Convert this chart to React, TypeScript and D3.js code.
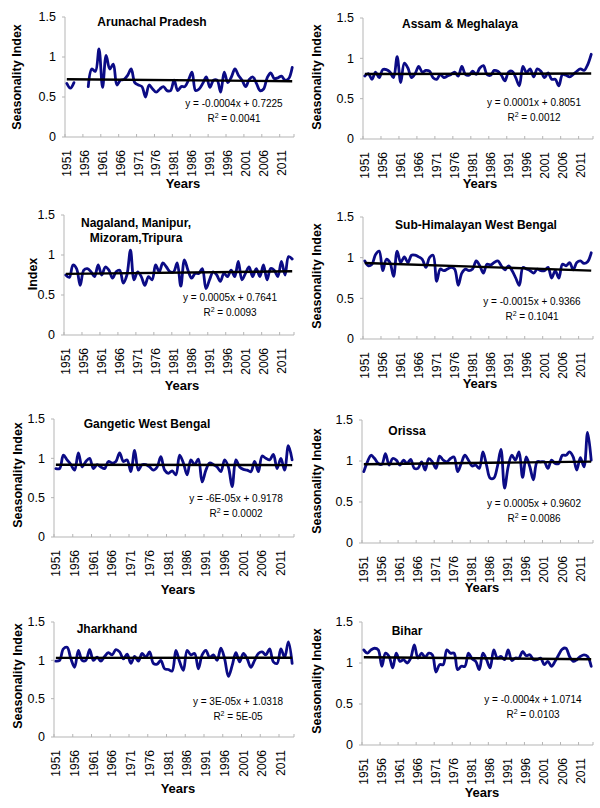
import React from "react";
import * as d3 from "d3";

const years: number[] = [
  1951, 1952, 1953, 1954, 1955, 1956, 1957, 1958, 1959, 1960, 1961, 1962, 1963, 1964, 1965, 1966,
  1967, 1968, 1969, 1970, 1971, 1972, 1973, 1974, 1975, 1976, 1977, 1978, 1979, 1980, 1981, 1982,
  1983, 1984, 1985, 1986, 1987, 1988, 1989, 1990, 1991, 1992, 1993, 1994, 1995, 1996, 1997, 1998,
  1999, 2000, 2001, 2002, 2003, 2004, 2005, 2006, 2007, 2008, 2009, 2010, 2011, 2012, 2013, 2014,
];
const xTickLabels: number[] = [1951, 1956, 1961, 1966, 1971, 1976, 1981, 1986, 1991, 1996, 2001, 2006, 2011];
const yTicks: number[] = [0, 0.5, 1, 1.5];

const arunachal: (number | null)[] = [
  0.67, 0.61, 0.68, null, null, null, 0.63, 0.85, 0.82, 1.1, 0.62, 1.02, 0.85, 0.91, 0.65, 0.71,
  0.72, 0.77, 0.85, 0.68, 0.65, 0.63, 0.5, 0.65, 0.6, 0.56, 0.6, 0.63, 0.58, 0.58, 0.71, 0.58,
  0.63, 0.63, 0.71, 0.81, 0.58, 0.6, 0.67, 0.75, 0.62, 0.71, 0.71, 0.56, 0.81, 0.68, 0.75, 0.85,
  0.77, 0.71, 0.63, 0.72, 0.75, 0.67, 0.58, 0.6, 0.74, 0.8, 0.73, 0.74, 0.76, 0.71, 0.73, 0.87,
];
const assam: number[] = [
  0.78, 0.81, 0.74, 0.83, 0.76, 0.86, 0.86, 0.83, 0.76, 1.02, 0.7, 0.94, 0.88, 0.76, 0.81, 0.9,
  0.83, 0.85, 0.84, 0.76, 0.74, 0.8, 0.76, 0.78, 0.8, 0.83, 0.78, 0.9, 0.8, 0.79, 0.84, 0.8,
  0.88, 0.91, 0.8, 0.79, 0.85, 0.84, 0.79, 0.72, 0.83, 0.84, 0.76, 0.66, 0.9, 0.82, 0.87, 0.77,
  0.87, 0.84, 0.76, 0.82, 0.74, 0.74, 0.66, 0.8, 0.79, 0.77, 0.8, 0.84, 0.87, 0.85, 0.92, 1.05,
];
const nagaland: number[] = [
  0.75, 0.72, 0.875, 0.83, 0.62, 0.81, 0.83, 0.79, 0.73, 0.875, 0.75, 0.85, 0.81, 0.71, 0.79, 0.81,
  0.65, 0.75, 1.06, 0.69, 0.79, 0.73, 0.62, 0.73, 0.69, 0.875, 0.79, 0.9, 0.85, 0.79, 0.79, 0.9,
  0.61, 0.94, 0.81, 0.71, 0.77, 0.77, 0.83, 0.58, 0.69, 0.79, 0.75, 0.67, 0.77, 0.73, 0.81, 0.73,
  0.92, 0.69, 0.77, 0.85, 0.73, 0.83, 0.73, 0.875, 0.69, 0.83, 0.81, 0.73, 0.92, 0.75, 0.98, 0.95,
];
const subHimalayanWB: number[] = [
  0.96, 0.9, 0.92, 1.04, 1.08, 0.84, 0.98, 0.94, 0.77, 1.08, 0.94, 1.01, 0.94, 1.03, 1.03, 1.01,
  0.98, 0.88, 1.0, 1.03, 0.71, 0.86, 0.84, 0.86, 0.88, 0.86, 0.66, 0.81, 0.86, 0.84, 0.86, 0.96,
  0.9, 0.81, 0.92, 0.91, 0.94, 0.96, 0.9, 0.85, 0.9, 0.84, 0.75, 0.66, 0.88, 0.86, 0.84, 0.81,
  0.86, 0.84, 0.84, 0.88, 0.75, 0.84, 0.75, 0.92, 0.9, 0.94, 0.85, 0.94, 0.96, 0.93, 0.95, 1.06,
];
const gangeticWB: number[] = [
  0.87, 0.87, 1.04, 0.98, 0.92, 0.85, 1.07, 0.89, 0.96, 1.0, 0.87, 0.92, 0.89, 0.87, 0.96, 0.94,
  0.96, 1.07, 0.96, 0.98, 0.83, 1.1, 0.85, 0.92, 0.92, 0.89, 0.85, 0.89, 1.02, 0.85, 0.81, 0.84,
  0.79, 1.04, 0.94, 0.79, 0.98, 0.92, 0.99, 0.7, 0.85, 0.94, 0.92, 0.89, 0.83, 0.98, 0.89, 0.64,
  0.98, 0.89, 0.86, 0.85, 0.83, 0.96, 0.83, 1.03, 1.0, 0.98, 1.05, 0.87, 1.0, 0.85, 1.16, 0.98,
];
const orissa: number[] = [
  0.87, 0.99, 1.07, 1.03, 0.97, 0.96, 1.09, 0.95, 1.03, 1.01, 0.95, 1.01, 0.97, 1.02, 0.91, 0.91,
  0.99, 0.89, 1.03, 0.99, 0.91, 1.06, 1.01, 0.99, 1.03, 1.05, 0.87, 0.97, 1.07, 1.01, 0.94, 0.95,
  0.91, 1.11, 0.95, 0.79, 0.79, 0.93, 1.14, 0.67, 0.93, 1.07, 1.01, 1.11, 0.8, 1.05, 0.93, 0.77,
  0.99, 0.99, 0.99, 0.91, 1.01, 0.97, 0.97, 1.07, 1.07, 1.11, 1.05, 0.89, 1.04, 0.93, 1.35, 1.01,
];
const jharkhand: number[] = [
  0.99, 1.0, 1.15, 1.17, 1.02, 0.91, 1.13, 1.0, 1.0, 1.14, 1.0, 1.04, 0.99, 1.05, 1.1, 1.07,
  1.14, 1.11, 1.02, 1.08, 0.96, 1.05, 0.99, 1.09, 1.04, 1.11, 0.96, 0.95, 1.0, 0.89, 0.88, 0.86,
  1.13, 0.98, 0.87, 1.13, 1.07, 1.09, 0.89, 1.07, 1.13, 1.04, 1.07, 1.0, 1.16, 1.02, 0.79, 0.93,
  1.1, 0.98, 1.09, 1.02, 0.91, 1.0, 1.09, 1.11, 1.07, 1.15, 0.98, 0.96, 1.15, 1.04, 1.24, 0.96,
];
const bihar: number[] = [
  1.16, 1.12, 1.16, 1.18, 1.16, 0.96, 1.12, 1.08, 0.94, 1.12, 1.02, 1.04, 1.0, 1.06, 1.22, 1.06,
  1.12, 1.07, 1.12, 1.1, 0.89, 0.98, 0.98, 1.16, 1.12, 1.12, 0.92, 0.96, 0.96, 1.12, 1.05, 1.02,
  0.92, 1.12, 1.04, 0.94, 1.16, 1.06, 1.08, 1.04, 1.16, 1.03, 1.06, 1.06, 1.14, 1.09, 1.1, 1.04,
  1.04, 1.06, 0.98, 1.02, 0.96, 1.02, 1.1, 1.17, 1.18, 1.08, 1.02, 1.04, 1.08, 1.1, 1.08, 0.96,
];

const titles: string[][] = [
  ["Arunachal Pradesh"],
  ["Assam & Meghalaya"],
  ["Nagaland, Manipur,", "Mizoram,Tripura"],
  ["Sub-Himalayan West Bengal"],
  ["Gangetic West Bengal"],
  ["Orissa"],
  ["Jharkhand"],
  ["Bihar"],
];
const yTitles: string[] = [
  "Seasonality Index", "Seasonality Index", "Index", "Seasonality Index",
  "Seasonality Index", "Seasonality Index", "Seasonality Index", "Seasonality Index",
];
const slopes: number[] = [-0.0004, 0.0001, 0.0005, -0.0015, -6e-5, 0.0005, 3e-5, -0.0004];
const intercepts: number[] = [0.7225, 0.8051, 0.7641, 0.9366, 0.9178, 0.9602, 1.0318, 1.0714];
const equations: string[] = [
  "y = -0.0004x + 0.7225", "y = 0.0001x + 0.8051", "y = 0.0005x + 0.7641", "y = -0.0015x + 0.9366",
  "y = -6E-05x + 0.9178", "y = 0.0005x + 0.9602", "y = 3E-05x + 1.0318", "y = -0.0004x + 1.0714",
];
const r2Values: string[] = ["0.0041", "0.0012", "0.0093", "0.1041", "0.0002", "0.0086", "5E-05", "0.0103"];
const seriesList: (number | null)[][] = [arunachal, assam, nagaland, subHimalayanWB, gangeticWB, orissa, jharkhand, bihar];

// layout per panel (pixel geometry)
type Layout = {
  ax: number; right: number; y0: number; y15: number;
  titleX: number; titleY: number;
  ytX: number; ytY: number;
  eqX: number; eqY: number;
  yearsX: number; yearsY: number;
};
const layouts: Layout[] = [
  { ax: 65, right: 294, y0: 137, y15: 17, titleX: 152, titleY: 26, ytX: 17, ytY: 77, eqX: 234, eqY: 107, yearsX: 183, yearsY: 188 },
  { ax: 363, right: 593, y0: 139, y15: 18, titleX: 460, titleY: 28, ytX: 317, ytY: 77, eqX: 534, eqY: 106, yearsX: 480, yearsY: 188 },
  { ax: 64, right: 294, y0: 335, y15: 215, titleX: 136, titleY: 227, ytX: 33, ytY: 274, eqX: 230, eqY: 301, yearsX: 182, yearsY: 390 },
  { ax: 363, right: 593, y0: 339, y15: 217, titleX: 476, titleY: 229, ytX: 317, ytY: 276, eqX: 532, eqY: 305, yearsX: 480, yearsY: 388 },
  { ax: 54, right: 294, y0: 537, y15: 419, titleX: 147, titleY: 428, ytX: 18, ytY: 475, eqX: 236, eqY: 502, yearsX: 178, yearsY: 594 },
  { ax: 362, right: 593, y0: 543, y15: 420, titleX: 407, titleY: 435, ytX: 317, ytY: 481, eqX: 534, eqY: 507, yearsX: 482, yearsY: 592 },
  { ax: 54, right: 294, y0: 737, y15: 622, titleX: 107, titleY: 633, ytX: 18, ytY: 676, eqX: 238, eqY: 705, yearsX: 178, yearsY: 793 },
  { ax: 362, right: 593, y0: 745, y15: 622, titleX: 407, titleY: 635, ytX: 317, ytY: 681, eqX: 533, eqY: 703, yearsX: 482, yearsY: 797 },
];

const FONT = "'Liberation Sans', Arial, Helvetica, sans-serif";
const AXIS_COLOR = "#b5b5b5";
const LINE_COLOR = "#0b0b85";

function Panel({ idx }: { idx: number }) {
  const L = layouts[idx];
  const data = seriesList[idx];
  const x = d3.scaleBand<number>().domain(years).range([L.ax, L.right]).padding(0);
  const bw = x.bandwidth();
  const cx = (yr: number) => (x(yr) as number) + bw / 2;
  const y = d3.scaleLinear().domain([0, 1.5]).range([L.y0, L.y15]);

  const line = d3
    .line<number | null>()
    .defined((d) => d !== null)
    .x((_, i) => cx(years[i]))
    .y((d) => y(d as number))
    .curve(d3.curveCatmullRom.alpha(0.5));
  const path = line(data) || "";

  const trendPts: [number, number][] = [
    [cx(years[0]), y(slopes[idx] * 1 + intercepts[idx])],
    [cx(years[years.length - 1]), y(slopes[idx] * years.length + intercepts[idx])],
  ];
  const trendPath = d3.line()(trendPts) || "";

  const tickBoundaries = years.filter((_, i) => i % 5 === 0).map((yr) => x(yr) as number);
  tickBoundaries.push(L.right);

  return (
    <g>
      {/* axes */}
      <line x1={L.ax} x2={L.ax} y1={L.y15} y2={L.y0} stroke={AXIS_COLOR} strokeWidth={1} />
      <line x1={L.ax} x2={L.right} y1={L.y0} y2={L.y0} stroke={AXIS_COLOR} strokeWidth={1} />
      {yTicks.map((t) => (
        <g key={"yt" + t}>
          <line x1={L.ax - 3} x2={L.ax} y1={y(t)} y2={y(t)} stroke={AXIS_COLOR} strokeWidth={1} />
          <text x={L.ax - 9} y={y(t)} dy="0.35em" textAnchor="end" fontSize={12.5} fontFamily={FONT} fill="#000">
            {String(t)}
          </text>
        </g>
      ))}
      {tickBoundaries.map((bx, i) => (
        <line key={"xt" + i} x1={bx} x2={bx} y1={L.y0} y2={L.y0 - 3} stroke={AXIS_COLOR} strokeWidth={1} />
      ))}
      {xTickLabels.map((yr) => (
        <text
          key={"xl" + yr}
          transform={`translate(${cx(yr)},${L.y0 + 13}) rotate(-90)`}
          dy="0.35em"
          textAnchor="end"
          fontSize={12}
          fontFamily={FONT}
          fill="#000"
        >
          {yr}
        </text>
      ))}
      {/* series */}
      <path d={path} fill="none" stroke={LINE_COLOR} strokeWidth={2.8} strokeLinejoin="round" strokeLinecap="round" />
      <path d={trendPath} fill="none" stroke="#000" strokeWidth={2.4} />
      {/* titles */}
      {titles[idx].map((t, k) => (
        <text
          key={"ti" + k}
          x={L.titleX}
          y={L.titleY + k * 15}
          textAnchor="middle"
          fontSize={12}
          fontWeight="bold"
          fontFamily={FONT}
          fill="#000"
        >
          {t}
        </text>
      ))}
      <text
        transform={`translate(${L.ytX},${L.ytY}) rotate(-90)`}
        dy="0.35em"
        textAnchor="middle"
        fontSize={12.5}
        fontWeight="bold"
        fontFamily={FONT}
        fill="#000"
      >
        {yTitles[idx]}
      </text>
      <text x={L.yearsX} y={L.yearsY} textAnchor="middle" fontSize={13} fontWeight="bold" fontFamily={FONT} fill="#000">
        Years
      </text>
      <text x={L.eqX} y={L.eqY} textAnchor="middle" fontSize={10} fontFamily={FONT} fill="#000">
        {equations[idx]}
      </text>
      <text x={L.eqX} y={L.eqY + 15} textAnchor="middle" fontSize={10} fontFamily={FONT} fill="#000">
        R<tspan dy={-4} fontSize={7}>2</tspan>
        <tspan dy={4}>{" = " + r2Values[idx]}</tspan>
      </text>
    </g>
  );
}

export default function App() {
  return (
    <svg
      width={600}
      height={808}
      viewBox="0 0 600 808"
      style={{ position: "absolute", left: 0, top: 0, background: "#fff", display: "block" }}
    >
      <rect x={0} y={0} width={600} height={808} fill="#fff" />
      {seriesList.map((_, i) => (
        <Panel key={i} idx={i} />
      ))}
    </svg>
  );
}
